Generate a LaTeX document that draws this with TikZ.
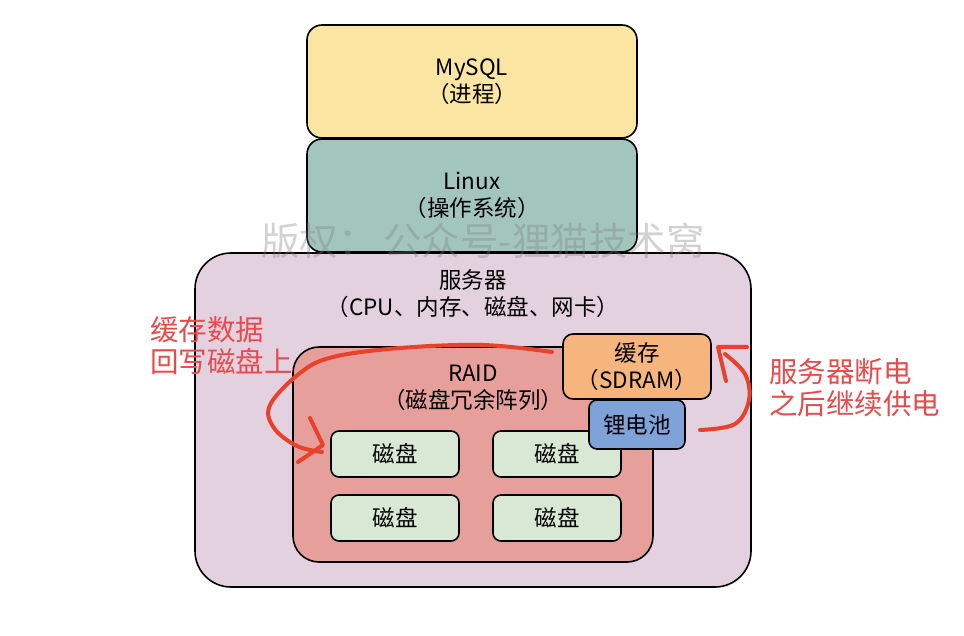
\documentclass[tikz,border=0pt]{standalone}
\usepackage{fontspec}
\setmainfont{Noto Sans CJK SC}
\definecolor{cyellow}{HTML}{FAE5A2}
\definecolor{cteal}{HTML}{A3C6BC}
\definecolor{cserver}{HTML}{E3D1DF}
\definecolor{craid}{HTML}{E69F9B}
\definecolor{cdisk}{HTML}{D9E7D5}
\definecolor{ccache}{HTML}{F5B57C}
\definecolor{cbat}{HTML}{7FA2D8}
\definecolor{cred}{HTML}{E84B4B}
\definecolor{cstroke}{HTML}{E8412C}
\tikzset{
  box/.style={draw=black, line width=1.6pt, align=center, inner sep=0pt, font=\fontsize{22.5}{27}\selectfont},
  lbl/.style={align=center, inner sep=0pt, font=\fontsize{22.5}{27}\selectfont},
  note/.style={text=cred, align=left, inner sep=0pt, font=\fontsize{28.5}{32}\selectfont},
  redline/.style={draw=cstroke, line width=4pt, line cap=round, line join=round},
}
\begin{document}
\begin{tikzpicture}[x=1pt,y=-1pt]
\useasboundingbox[fill=white] (0,0) rectangle (964,636);
\node[box, fill=cyellow, rounded corners=15pt, minimum width=330pt, minimum height=113pt] (mysql) at (472,81.5) {MySQL\\（进程）};
\node[box, fill=cteal, rounded corners=15pt, minimum width=330pt, minimum height=113pt] (linux) at (472,195.5) {Linux\\（操作系统）};
\node[box, fill=cserver, rounded corners=36pt, minimum width=556pt, minimum height=334pt] (server) at (473,420) {};
\node[lbl] (servertxt) at (473,294) {服务器\\（CPU、内存、磁盘、网卡）};
\node[box, fill=craid, rounded corners=26pt, minimum width=360pt, minimum height=215pt] (raid) at (473,454.5) {};
\node[lbl] (raidtxt) at (473,388) {RAID\\（磁盘冗余阵列）};
\node[box, fill=cdisk, rounded corners=8pt, minimum width=128pt, minimum height=46pt] (d1) at (395,454) {磁盘};
\node[box, fill=cdisk, rounded corners=8pt, minimum width=128pt, minimum height=46pt] (d2) at (557,454) {磁盘};
\node[box, fill=cdisk, rounded corners=8pt, minimum width=128pt, minimum height=46pt] (d3) at (395,518) {磁盘};
\node[box, fill=cdisk, rounded corners=8pt, minimum width=128pt, minimum height=46pt] (d4) at (557,518) {磁盘};
\node[box, fill=ccache, rounded corners=10pt, minimum width=148pt, minimum height=65pt] (cache) at (637,366.5) {缓存\\（SDRAM）};
\node[box, fill=cbat, rounded corners=8pt, minimum width=96pt, minimum height=49pt] (bat) at (637,424.5) {锂电池};
% watermark
\node[text=gray, text opacity=0.35, inner sep=0pt, font=\fontsize{38.5}{42}\selectfont] (wm) at (483,241) {版权：\,公众号-狸猫技术窝};
% notes
\node[note, anchor=west] (n1) at (150,346) {缓存数据\\回写磁盘上};
\node[note, anchor=west] (n2) at (769,388) {服务器断电\\之后继续供电};
% freehand arrows
\coordinate (a0) at (552,352);
\coordinate (a5) at (322,452);
\draw[redline] plot[smooth, tension=0.6] coordinates {(a0) (483,345) (400,348) (333,357) (300,373) (270,405) (274,428) (297,446) (a5)};
\draw[redline] (310,418) -- (323,445) -- (298,462);
\coordinate (b0) at (700,430);
\coordinate (b4) at (725,354);
\draw[redline] plot[smooth, tension=0.6] coordinates {(b0) (735,424) (749,400) (745,374) (b4)};
\draw[redline] (747,347) -- (718,347) -- (726,381);
\end{tikzpicture}
\end{document}
